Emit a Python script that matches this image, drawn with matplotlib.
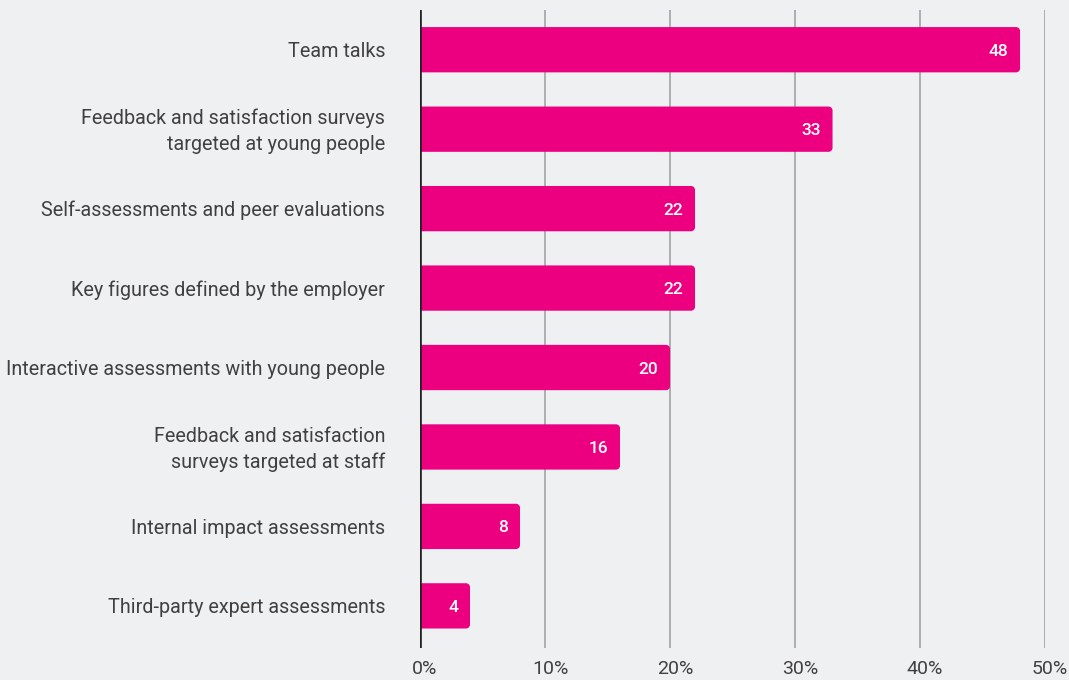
import matplotlib.pyplot as plt
import matplotlib.transforms as mtransforms
from matplotlib.patches import PathPatch
from matplotlib.path import Path

plt.rcParams['font.family'] = ['Roboto', 'DejaVu Sans']

categories = [
    "Team talks",
    "Feedback and satisfaction surveys\ntargeted at young people",
    "Self-assessments and peer evaluations",
    "Key figures defined by the employer",
    "Interactive assessments with young people",
    "Feedback and satisfaction\nsurveys targeted at staff",
    "Internal impact assessments",
    "Third-party expert assessments",
]
values = [48, 33, 22, 22, 20, 16, 8, 4]
x_ticks = [0, 10, 20, 30, 40, 50]
x_tick_labels = ["0%", "10%", "20%", "30%", "40%", "50%"]

bg = "#eff0f2"
pink = "#ec0080"
text_col = "#404040"

fig = plt.figure(figsize=(10.69, 6.8), dpi=100, facecolor=bg)
ax = fig.add_axes([0.3929, 0.0471, 0.5847, 0.9382], facecolor=bg)

ypos = list(range(len(categories)))
bars = ax.barh(ypos, values, height=0.57, color=pink)


def right_rounded(x, y, w, h, rx, ry):
    # square left end, rounded corners on the right end
    k = 0.55
    verts = [
        (x, y), (x + w - rx, y),
        (x + w - rx + k * rx, y), (x + w, y + ry - k * ry), (x + w, y + ry),
        (x + w, y + h - ry),
        (x + w, y + h - ry + k * ry), (x + w - rx + k * rx, y + h), (x + w - rx, y + h),
        (x, y + h), (x, y),
    ]
    codes = [Path.MOVETO, Path.LINETO,
             Path.CURVE4, Path.CURVE4, Path.CURVE4,
             Path.LINETO,
             Path.CURVE4, Path.CURVE4, Path.CURVE4,
             Path.LINETO, Path.CLOSEPOLY]
    return Path(verts, codes)


rad_x = 0.32
rad_y = 0.05
for bar, v in zip(bars, values):
    x, y = bar.get_x(), bar.get_y()
    w, h = bar.get_width(), bar.get_height()
    bar.set_visible(False)
    ax.add_patch(PathPatch(right_rounded(x, y, w, h, rad_x, rad_y),
                           facecolor=pink, edgecolor="none", zorder=3))
    ax.text(v - 0.95, y + h / 2, str(v), ha="right", va="center_baseline",
            color="white", fontsize=12.5, fontweight="medium", zorder=4)

ax.set_xlim(0, 50)
ax.set_ylim(7.53, -0.5)

for t in x_ticks[1:]:
    ax.axvline(t, color="#a3a3a3", linewidth=1.2, zorder=1)
ax.axvline(0, color="#222222", linewidth=1.9, zorder=5)

ax.set_xticks(x_ticks)
ax.set_xticklabels(x_tick_labels, fontsize=14, color=text_col)
ax.set_yticks(ypos)
ax.set_yticklabels(categories, fontsize=14.2, color=text_col, linespacing=1.42)
ax.tick_params(axis="x", length=0, pad=9)
ax.tick_params(axis="y", length=0, pad=25)
shift = mtransforms.ScaledTranslation(5 / 100, 0, fig.dpi_scale_trans)
for lbl in ax.get_xticklabels():
    lbl.set_transform(lbl.get_transform() + shift)
# nudge two-line labels up so they sit centred on their bar
lift = mtransforms.ScaledTranslation(0, 3 / 100, fig.dpi_scale_trans)
for lbl in ax.get_yticklabels():
    if "\n" in lbl.get_text():
        lbl.set_transform(lbl.get_transform() + lift)

for s in ax.spines.values():
    s.set_visible(False)

fig.savefig("out.png", dpi=100, facecolor=bg)
